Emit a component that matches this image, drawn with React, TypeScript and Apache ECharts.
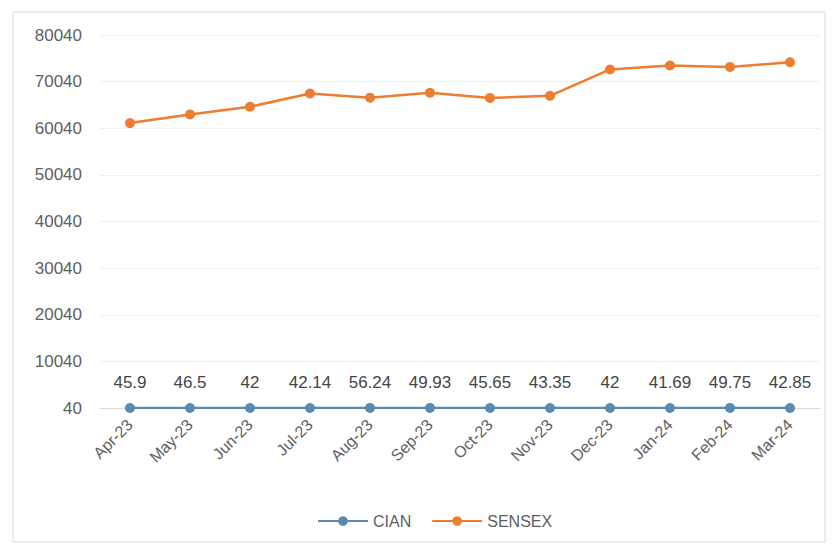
import React, { useEffect, useRef } from "react";
import * as echarts from "echarts";

const categories = ["Apr-23", "May-23", "Jun-23", "Jul-23", "Aug-23", "Sep-23", "Oct-23", "Nov-23", "Dec-23", "Jan-24", "Feb-24", "Mar-24"];
const cianValues = [45.9, 46.5, 42, 42.14, 56.24, 49.93, 45.65, 43.35, 42, 41.69, 49.75, 42.85];
const sensexValues = [61150, 63000, 64650, 67500, 66600, 67650, 66550, 67000, 72650, 73500, 73200, 74200];
const yMin = 40;
const yMax = 80040;
const yStep = 10000;

export default function App() {
  const ref = useRef<HTMLDivElement>(null);
  useEffect(() => {
    document.body.style.margin = "0";
    const chart = echarts.init(ref.current!, null, { renderer: "svg" });
    const font = "'Liberation Sans', Arial, sans-serif";
    chart.setOption({
      animation: false,
      backgroundColor: "#ffffff",
      textStyle: { fontFamily: font },
      graphic: [
        {
          type: "rect",
          shape: { x: 13, y: 12, width: 812, height: 530 },
          style: { fill: "none", stroke: "#d9d9d9", lineWidth: 1 },
          silent: true,
        },
      ],
      grid: { left: 100, right: 12, top: 35, bottom: 140 },
      legend: {
        top: 508,
        left: 312,
        itemWidth: 50,
        itemHeight: 12,
        itemGap: 20,
        textStyle: { color: "#606060", fontSize: 16, fontFamily: font },
        data: ["CIAN", "SENSEX"],
      },
      xAxis: {
        type: "category",
        data: categories,
        boundaryGap: true,
        axisLine: { show: true, lineStyle: { color: "#d9d9d9" } },
        axisTick: { show: false },
        axisLabel: { rotate: 45, color: "#606060", fontSize: 16, margin: 14, interval: 0 },
      },
      yAxis: {
        type: "value",
        min: yMin,
        max: yMax,
        interval: yStep,
        axisLine: { show: false },
        axisTick: { show: false },
        axisLabel: { color: "#606060", fontSize: 17, margin: 18, formatter: (v: number) => String(v) },
        splitLine: { lineStyle: { color: "#efefef" } },
      },
      series: [
        {
          name: "CIAN",
          type: "line",
          data: cianValues,
          color: "#5b8ab0",
          lineStyle: { width: 2.5, color: "#5b8ab0" },
          symbol: "circle",
          symbolSize: 10,
          itemStyle: { color: "#5b8ab0" },
          label: { show: true, position: "top", distance: 12, color: "#454545", fontSize: 17 },
          z: 3,
        },
        {
          name: "SENSEX",
          type: "line",
          data: sensexValues,
          color: "#ed7d31",
          lineStyle: { width: 2.5, color: "#ed7d31" },
          symbol: "circle",
          symbolSize: 10,
          itemStyle: { color: "#ed7d31" },
          z: 2,
        },
      ],
    });
    return () => chart.dispose();
  }, []);
  return <div ref={ref} style={{ width: 832, height: 548 }} />;
}
